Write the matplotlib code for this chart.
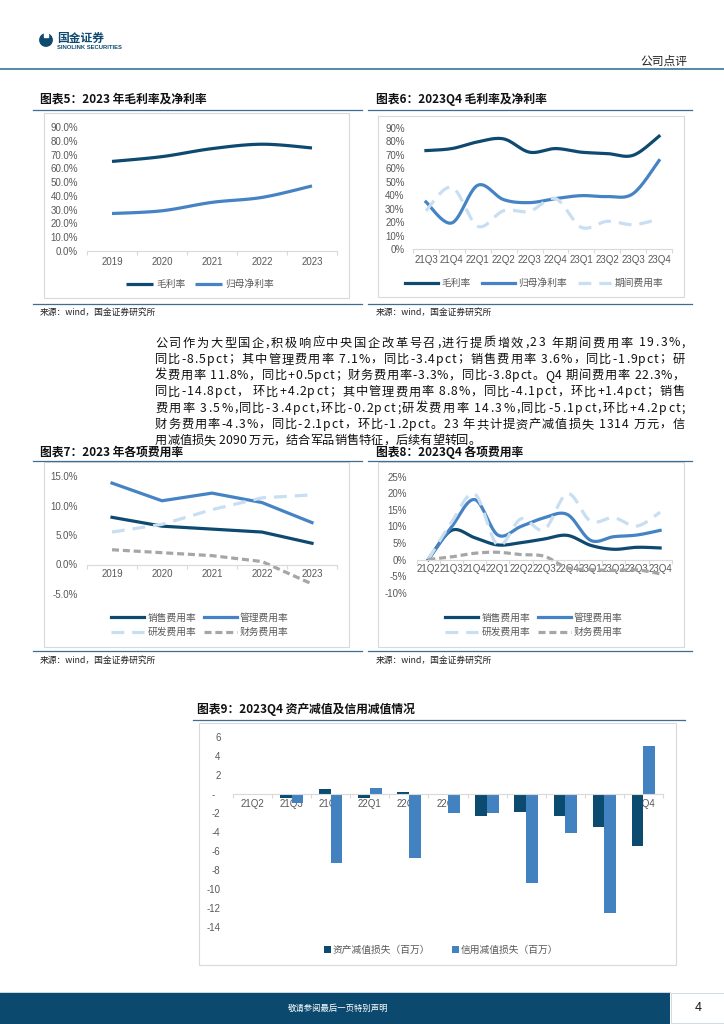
import numpy as np
import matplotlib
matplotlib.use("Agg")
import matplotlib.pyplot as plt
from matplotlib.patches import Rectangle, Circle
from matplotlib.lines import Line2D
from matplotlib.font_manager import FontProperties, findfont, get_font

# ---------------- data ----------------
years = ["2019", "2020", "2021", "2022", "2023"]
gross_margin_y = [65.0, 68.5, 74.3, 77.5, 74.8]
net_margin_y = [27.2, 29.2, 35.3, 38.9, 47.2]

quarters6 = ["21Q3", "21Q4", "22Q1", "22Q2", "22Q3", "22Q4", "23Q1", "23Q2", "23Q3", "23Q4"]
gross_margin_q = [73.2, 74.7, 79.7, 81.9, 72.0, 74.7, 72.0, 71.0, 69.7, 83.9]
net_margin_q = [35.0, 19.4, 47.4, 36.7, 34.5, 37.5, 39.7, 39.0, 41.2, 65.8]
period_exp_q = [28.5, 45.9, 16.9, 28.5, 28.0, 37.5, 16.1, 20.6, 18.1, 22.3]

sales_exp_y = [8.0, 6.5, 6.0, 5.5, 3.6]
admin_exp_y = [13.8, 10.8, 12.1, 10.5, 7.1]
rd_exp_y = [5.5, 6.8, 9.3, 11.3, 11.8]
fin_exp_y = [2.5, 2.0, 1.5, 0.5, -3.3]

quarters8 = ["21Q2", "21Q3", "21Q4", "22Q1", "22Q2", "22Q3", "22Q4", "23Q1", "23Q2", "23Q3", "23Q4"]
sales_exp_q = [0.0, 8.8, 6.6, 4.4, 5.1, 6.2, 7.3, 4.3, 3.1, 3.7, 3.5]
admin_exp_q = [0.0, 9.8, 18.1, 7.4, 10.0, 12.6, 13.6, 5.8, 6.9, 7.4, 8.8]
rd_exp_q = [0.0, 11.2, 19.8, 4.3, 12.3, 9.0, 19.9, 11.6, 12.6, 10.1, 14.3]
fin_exp_q = [0.0, 0.8, 1.9, 2.2, 1.5, 1.0, -2.5, -3.0, -3.3, -3.1, -4.3]

quarters9 = quarters8
asset_impair = [0.0, -0.46, 0.57, -0.40, 0.18, -0.10, -2.30, -1.94, -2.30, -3.50, -5.50]
credit_impair = [0.0, -0.92, -7.30, 0.67, -6.75, -2.05, -2.05, -9.33, -4.06, -12.50, 5.09]

paragraph = [
    "公司作为大型国企,积极响应中央国企改革号召,进行提质增效,23 年期间费用率 19.3%,",
    "同比-8.5pct；其中管理费用率 7.1%，同比-3.4pct；销售费用率 3.6%，同比-1.9pct；研",
    "发费用率 11.8%，同比+0.5pct；财务费用率-3.3%，同比-3.8pct。Q4 期间费用率 22.3%，",
    "同比-14.8pct， 环比+4.2pct；其中管理费用率 8.8%，同比-4.1pct，环比+1.4pct；销售",
    "费用率 3.5%,同比-3.4pct,环比-0.2pct;研发费用率 14.3%,同比-5.1pct,环比+4.2pct;",
    "财务费用率-4.3%，同比-2.1pct，环比-1.2pct。23 年共计提资产减值损失 1314 万元，信",
    "用减值损失 2090 万元，结合军品销售特征，后续有望转回。",
]

# ---------------- style ----------------
DARK = "#0E4A70"
MID = "#4583C4"
LIGHT = "#C8DEF2"
GRAY = "#A6A6A6"
TXT = "#595959"
AXC = "#D9D9D9"
RULE = "#3D6E92"
CJK = ["Noto Sans CJK SC", "DejaVu Sans"]
TICKF = ["Liberation Sans", "Noto Sans CJK SC", "DejaVu Sans"]

W, H = 724, 1024
fig = plt.figure(figsize=(7.24, 10.24), dpi=100)
bg = fig.add_axes([0, 0, 1, 1])
bg.set_xlim(0, W)
bg.set_ylim(H, 0)
bg.axis("off")
bg.set_zorder(-5)


def rect(x0, y0, x1, y1):
    return [x0 / W, 1 - y1 / H, (x1 - x0) / W, (y1 - y0) / H]


def smooth(ys, n=24):
    ys = np.asarray(ys, float)
    xs = np.arange(len(ys), dtype=float)
    P = np.column_stack([xs, ys])
    Pp = np.vstack([P[0], P, P[-1]])
    out = []
    t = np.linspace(0, 1, n)[:, None]
    for i in range(len(P) - 1):
        p0, p1, p2, p3 = Pp[i], Pp[i + 1], Pp[i + 2], Pp[i + 3]
        c1 = p1 + (p2 - p0) / 6.0
        c2 = p2 - (p3 - p1) / 6.0
        seg = ((1 - t) ** 3) * p1 + 3 * ((1 - t) ** 2) * t * c1 + 3 * (1 - t) * t ** 2 * c2 + t ** 3 * p2
        out.append(seg if i == 0 else seg[1:])
    out = np.vstack(out)
    return out[:, 0], out[:, 1]


def style_axes(ax, cats, ylim, yticks, ylabels, xpad=3.5, ypad=6):
    n = len(cats)
    ax.set_facecolor("none")
    ax.set_xlim(-0.5, n - 0.5)
    ax.set_ylim(*ylim)
    for s in ["top", "right", "left"]:
        ax.spines[s].set_visible(False)
    ax.spines["bottom"].set_color(AXC)
    ax.spines["bottom"].set_linewidth(0.8)
    ax.spines["bottom"].set_position(("data", 0))
    ax.set_xticks(np.arange(n + 1) - 0.5)
    ax.set_xticklabels([])
    ax.set_xticks(np.arange(n), minor=True)
    ax.set_xticklabels(cats, minor=True, fontsize=7, color=TXT, family=TICKF)
    ax.tick_params(axis="x", which="major", length=3, width=0.8, color=AXC, direction="out")
    ax.tick_params(axis="x", which="minor", length=0, pad=xpad)
    ax.set_yticks(yticks)
    ax.set_yticklabels(ylabels, fontsize=7, color=TXT, family=TICKF)
    ax.tick_params(axis="y", length=0, pad=ypad)


def chart_frame(x0, y0, x1, y1):
    bg.add_patch(Rectangle((x0, y0), x1 - x0, y1 - y0, facecolor="white", edgecolor=AXC, lw=0.8))


def rule(x0, x1, y, lw=0.9, color=RULE):
    bg.add_line(Line2D([x0, x1], [y, y], color=color, lw=lw))


def title(x, y, s):
    bg.text(x, y, s, fontsize=8.5, fontweight="bold", family=CJK, va="center", ha="left", color="#111111")


def source(x, y):
    bg.text(x, y, "来源：wind，国金证券研究所", fontsize=6.3, family=CJK, va="center", ha="left", color="#222222")


def legend4(ax, hs, cx, cy):
    labels = ["销售费用率", "管理费用率", "研发费用率", "财务费用率"]
    order = [0, 2, 1, 3]
    ax.legend([hs[i] for i in order], [labels[i] for i in order], loc="center",
              bbox_to_anchor=(cx / W, 1 - cy / H), bbox_transform=fig.transFigure, ncol=2, frameon=False,
              handlelength=3.4, columnspacing=0.8, handletextpad=0.3, labelspacing=0.45,
              prop=FontProperties(family=CJK, size=7), labelcolor=TXT)


# ---------------- page header ----------------
bg.add_patch(Circle((46, 40), 6.2, color=DARK))
bg.add_patch(Rectangle((44.2, 33.2), 3.6, 3.6, color="white"))
bg.text(57, 38.5, "国金证券", fontsize=8.5, fontweight="bold", family=CJK, va="center", ha="left", color=DARK)
bg.text(57, 47.5, "SINOLINK SECURITIES", fontsize=4.2, fontweight="bold", family=TICKF, va="center", ha="left", color=DARK)
bg.text(687, 61, "公司点评", fontsize=8.5, family=CJK, va="center", ha="right", color="#222222")
rule(0, W, 69, lw=1.3, color="#4A7FA3")

# ---------------- chart 5 ----------------
title(40, 99, "图表5：2023 年毛利率及净利率")
rule(33, 362, 110)
chart_frame(44, 113, 349, 298)
ax5 = fig.add_axes(rect(87, 127, 337, 251))
sx, sy = smooth(gross_margin_y)
l1, = ax5.plot(sx, sy, color=DARK, lw=2.3, solid_capstyle="butt")
sx, sy = smooth(net_margin_y)
l2, = ax5.plot(sx, sy, color=MID, lw=2.3, solid_capstyle="butt")
yt = np.arange(0, 91, 10)
style_axes(ax5, years, (0, 90), yt, [f"{v:.1f}%" for v in yt], xpad=4.5, ypad=6.5)
ax5.legend([l1, l2], ["毛利率", "归母净利率"], loc="center", bbox_to_anchor=(200 / W, 1 - 284 / H),
           bbox_transform=fig.transFigure, ncol=2, frameon=False, handlelength=2.8, columnspacing=1.0,
           handletextpad=0.3, prop=FontProperties(family=CJK, size=7), labelcolor=TXT)
rule(33, 362, 304)
source(40, 312)

# ---------------- chart 6 ----------------
title(376, 99, "图表6：2023Q4 毛利率及净利率")
rule(368, 692, 110)
chart_frame(378, 116, 684, 297)
ax6 = fig.add_axes(rect(413, 128, 672, 249))
sx, sy = smooth(gross_margin_q)
m1, = ax6.plot(sx, sy, color=DARK, lw=2.3)
sx, sy = smooth(net_margin_q)
m2, = ax6.plot(sx, sy, color=MID, lw=2.3)
sx, sy = smooth(period_exp_q)
m3, = ax6.plot(sx, sy, color=LIGHT, lw=2.3, dashes=(4, 2.5))
style_axes(ax6, quarters6, (0, 90), yt, [f"{v:d}%" for v in yt], xpad=4.5, ypad=6)
ax6.legend([m1, m2, m3], ["毛利率", "归母净利率", "期间费用率"], loc="center",
           bbox_to_anchor=(534 / W, 1 - 283 / H), bbox_transform=fig.transFigure, ncol=3, frameon=False,
           handlelength=3.4, columnspacing=1.2, handletextpad=0.3,
           prop=FontProperties(family=CJK, size=7), labelcolor=TXT)
rule(368, 692, 304)
source(376, 312)

# ---------------- paragraph ----------------
fs = 8.8
pprop = FontProperties(family="Noto Sans CJK SC", size=fs)
pfont = get_font(findfont(pprop))
pfont.set_size(fs, 100)


def adv(ch):
    g = pfont.load_char(ord(ch))
    return g.linearHoriAdvance / 65536.0


x_left, x_right = 155, 685
base0, lead = 346.5, 16.3
for i, line in enumerate(paragraph):
    widths = [adv(c) for c in line]
    total = sum(widths)
    if i < len(paragraph) - 1 and len(line) > 1:
        extra = (x_right - x_left - total) / (len(line) - 1)
    else:
        extra = 0.0
    xx = x_left
    yb = base0 + i * lead
    for c, w in zip(line, widths):
        if c != " ":
            bg.text(xx, yb, c, fontproperties=pprop, va="baseline", ha="left", color="#111111")
        xx += w + extra

# ---------------- chart 7 ----------------
title(40, 452, "图表7：2023 年各项费用率")
rule(33, 362, 461)
chart_frame(44, 462, 349, 647)
ax7 = fig.add_axes(rect(87, 476, 337, 594))
x = np.arange(len(years))
n1, = ax7.plot(x, sales_exp_y, color=DARK, lw=2.3)
n2, = ax7.plot(x, admin_exp_y, color=MID, lw=2.3)
n3, = ax7.plot(x, rd_exp_y, color=LIGHT, lw=2.3, dashes=(4, 2.5))
n4, = ax7.plot(x, fin_exp_y, color=GRAY, lw=2.3, dashes=(2.2, 1.2))
yt7 = np.arange(-5, 16, 5)
style_axes(ax7, years, (-5, 15), yt7, [f"{v:.1f}%" for v in yt7], xpad=3.5, ypad=6.5)
legend4(ax7, [n1, n2, n3, n4], 200, 625)
rule(33, 362, 651)
source(40, 660)

# ---------------- chart 8 ----------------
title(376, 452, "图表8：2023Q4 各项费用率")
rule(368, 692, 461)
chart_frame(378, 462, 684, 647)
ax8 = fig.add_axes(rect(416.7, 476.7, 671.7, 592.7))
sx, sy = smooth(sales_exp_q)
k1, = ax8.plot(sx, sy, color=DARK, lw=2.3)
sx, sy = smooth(admin_exp_q)
k2, = ax8.plot(sx, sy, color=MID, lw=2.3)
sx, sy = smooth(rd_exp_q)
k3, = ax8.plot(sx, sy, color=LIGHT, lw=2.3, dashes=(4, 2.5))
sx, sy = smooth(fin_exp_q)
k4, = ax8.plot(sx, sy, color=GRAY, lw=2.3, dashes=(2.2, 1.2))
yt8 = np.arange(-10, 26, 5)
style_axes(ax8, quarters8, (-10, 25), yt8, [f"{v:d}%" for v in yt8], xpad=3.5, ypad=7)
legend4(ax8, [k1, k2, k3, k4], 534, 625)
rule(368, 692, 651)
source(376, 660)

# ---------------- chart 9 ----------------
title(197, 709, "图表9：2023Q4 资产减值及信用减值情况")
rule(193, 685, 720)
chart_frame(199, 723, 676, 965)
ax9 = fig.add_axes(rect(233, 737, 663, 927))
x = np.arange(len(quarters9))
bw = 0.3
b1 = ax9.bar(x - bw / 2, asset_impair, width=bw, color="#0B4B70", zorder=2)
b2 = ax9.bar(x + bw / 2, credit_impair, width=bw, color="#4382C0", zorder=2)
yt9 = np.arange(-14, 7, 2)
style_axes(ax9, quarters9, (-14, 6), yt9, [("-  " if v == 0 else f"{v:d}") for v in yt9], xpad=3.5, ypad=9)
ax9.set_axisbelow(True)
ax9.legend([b1, b2], ["资产减值损失（百万）", "信用减值损失（百万）"], loc="center",
           bbox_to_anchor=(441 / W, 1 - 950 / H), bbox_transform=fig.transFigure, ncol=2, frameon=False,
           handlelength=0.7, handleheight=0.7, columnspacing=2.2, handletextpad=0.2,
           prop=FontProperties(family=CJK, size=7), labelcolor=TXT)

# ---------------- footer ----------------
bg.add_patch(Rectangle((0, 993), 670, 31, facecolor="#0B4A6E", edgecolor="none"))
bg.add_line(Line2D([0, 670], [992, 992], color="#BFD0DE", lw=0.6))
bg.add_patch(Rectangle((670.5, 993), 53, 30, facecolor="white", edgecolor="#C8D4DE", lw=0.6))
bg.text(338, 1008, "敬请参阅最后一页特别声明", fontsize=6, family=CJK, va="center", ha="center", color="white")
bg.text(698, 1008, "4", fontsize=9, family=TICKF, va="center", ha="center", color="#111111")

fig.savefig("out.png", dpi=100)
